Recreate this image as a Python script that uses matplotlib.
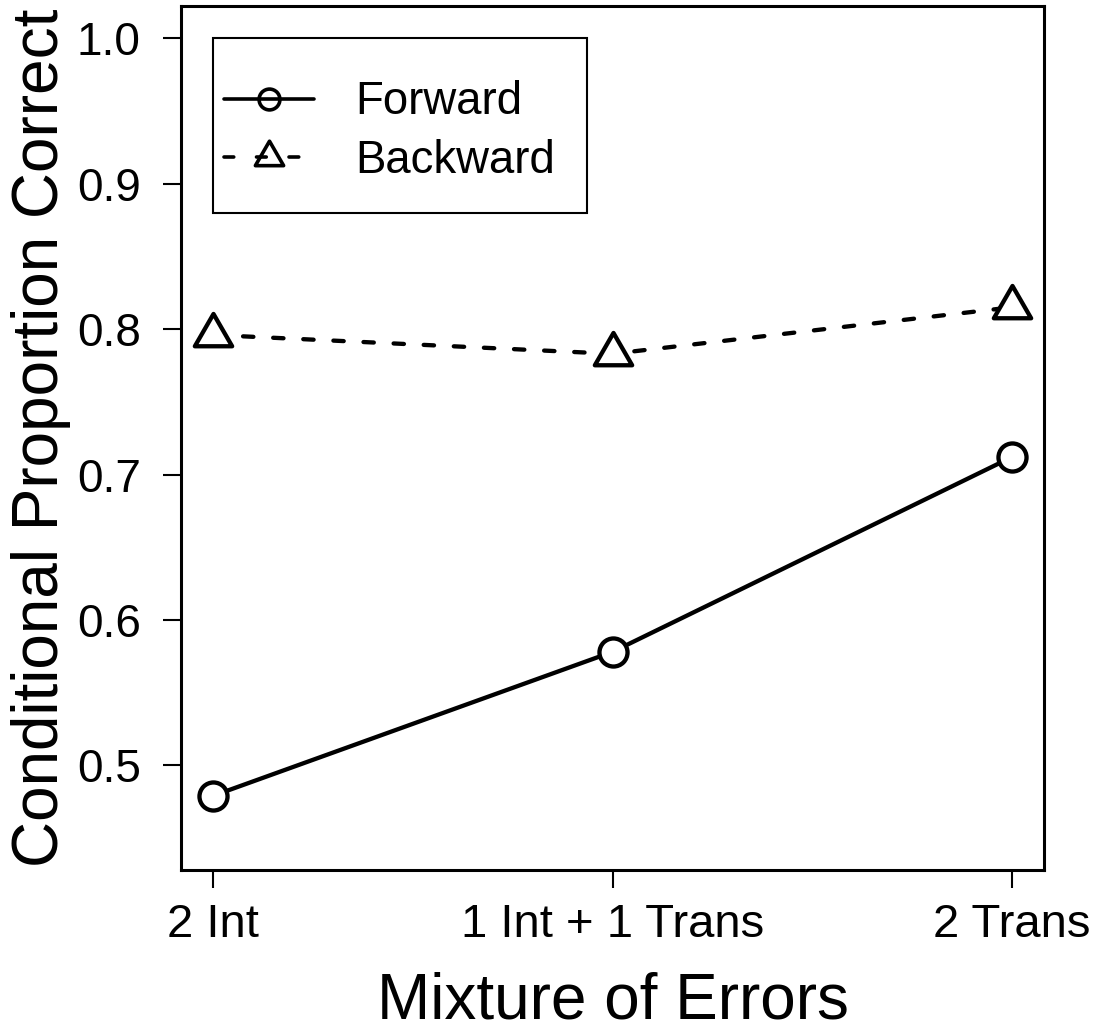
import matplotlib
matplotlib.use("Agg")
import matplotlib.pyplot as plt
from matplotlib.path import Path
from matplotlib.lines import Line2D
from matplotlib.patches import Rectangle

# Data
categories = ["2 Int", "1 Int + 1 Trans", "2 Trans"]
forward = [0.479, 0.578, 0.712]
backward = [0.796, 0.783, 0.815]
yticks = [0.5, 0.6, 0.7, 0.8, 0.9, 1.0]
ytick_labels = ["0.5", "0.6", "0.7", "0.8", "0.9", "1.0"]
series_names = ["Forward", "Backward"]

plt.rcParams["font.family"] = ["Liberation Sans", "DejaVu Sans"]

fig = plt.figure(figsize=(11, 10.22), dpi=100)
ax = fig.add_axes([181 / 1100, 152 / 1022, 863 / 1100, 863.7 / 1022])

xpos = list(range(1, len(categories) + 1))

# open triangle centred on its centroid (like R's pch = 2)
tri = Path([(0, 1), (-0.866, -0.5), (0.866, -0.5), (0, 1)], closed=True)
dash_plot = (0, (2.4, 4.6))
dash_leg = (0, (2.7, 6.3))

lw = 3.1
ax.plot(xpos, forward, color="black", lw=lw, solid_capstyle="round",
        marker="o", ms=20.2, mfc="white", mec="black", mew=lw,
        clip_on=False, zorder=3)
ax.plot(xpos, backward, color="black", lw=lw, linestyle=dash_plot,
        dash_capstyle="round", marker=tri, ms=31, mfc="white", mec="black",
        mew=lw, clip_on=False, zorder=3)

ax.set_xlim(0.92, 3.08)
ax.set_ylim(0.428, 1.022)
ax.set_xticks(xpos, categories)
ax.set_yticks(yticks, ytick_labels)
ax.tick_params(direction="out", length=13, width=1.5,
               top=False, right=False, colors="black")
ax.tick_params(axis="x", pad=11, labelsize=34)
ax.tick_params(axis="y", pad=16, labelsize=33)
for s in ax.spines.values():
    s.set_linewidth(2.2)

ax.set_xlabel("Mixture of Errors", fontsize=46, va="baseline")
ax.xaxis.set_label_coords(0.5, -0.1714)
ax.set_ylabel("Conditional Proportion Correct", fontsize=46, va="baseline")
ax.yaxis.set_label_coords(-0.1425, 0.5)

# Legend
handles = [
    Line2D([], [], color="black", lw=2.6, solid_capstyle="round",
           marker="o", ms=15, mfc="none", mec="black", mew=2.6),
    Line2D([], [], color="black", lw=2.6, linestyle=dash_leg,
           dash_capstyle="round", marker=tri, ms=23.5, mfc="none",
           mec="black", mew=2.6),
]
ax.legend(handles, series_names, loc="upper left",
          bbox_to_anchor=(1.0275, 0.971), bbox_transform=ax.transData,
          frameon=False, borderpad=0, borderaxespad=0, handlelength=1.98,
          handletextpad=0.9, labelspacing=0.32, fontsize=32.8, numpoints=1)
ax.add_patch(Rectangle((1.0, 0.8797), 0.936, 0.1203, transform=ax.transData,
                       fill=False, lw=1.5, edgecolor="black", clip_on=False))

fig.savefig("out.png", dpi=100)
